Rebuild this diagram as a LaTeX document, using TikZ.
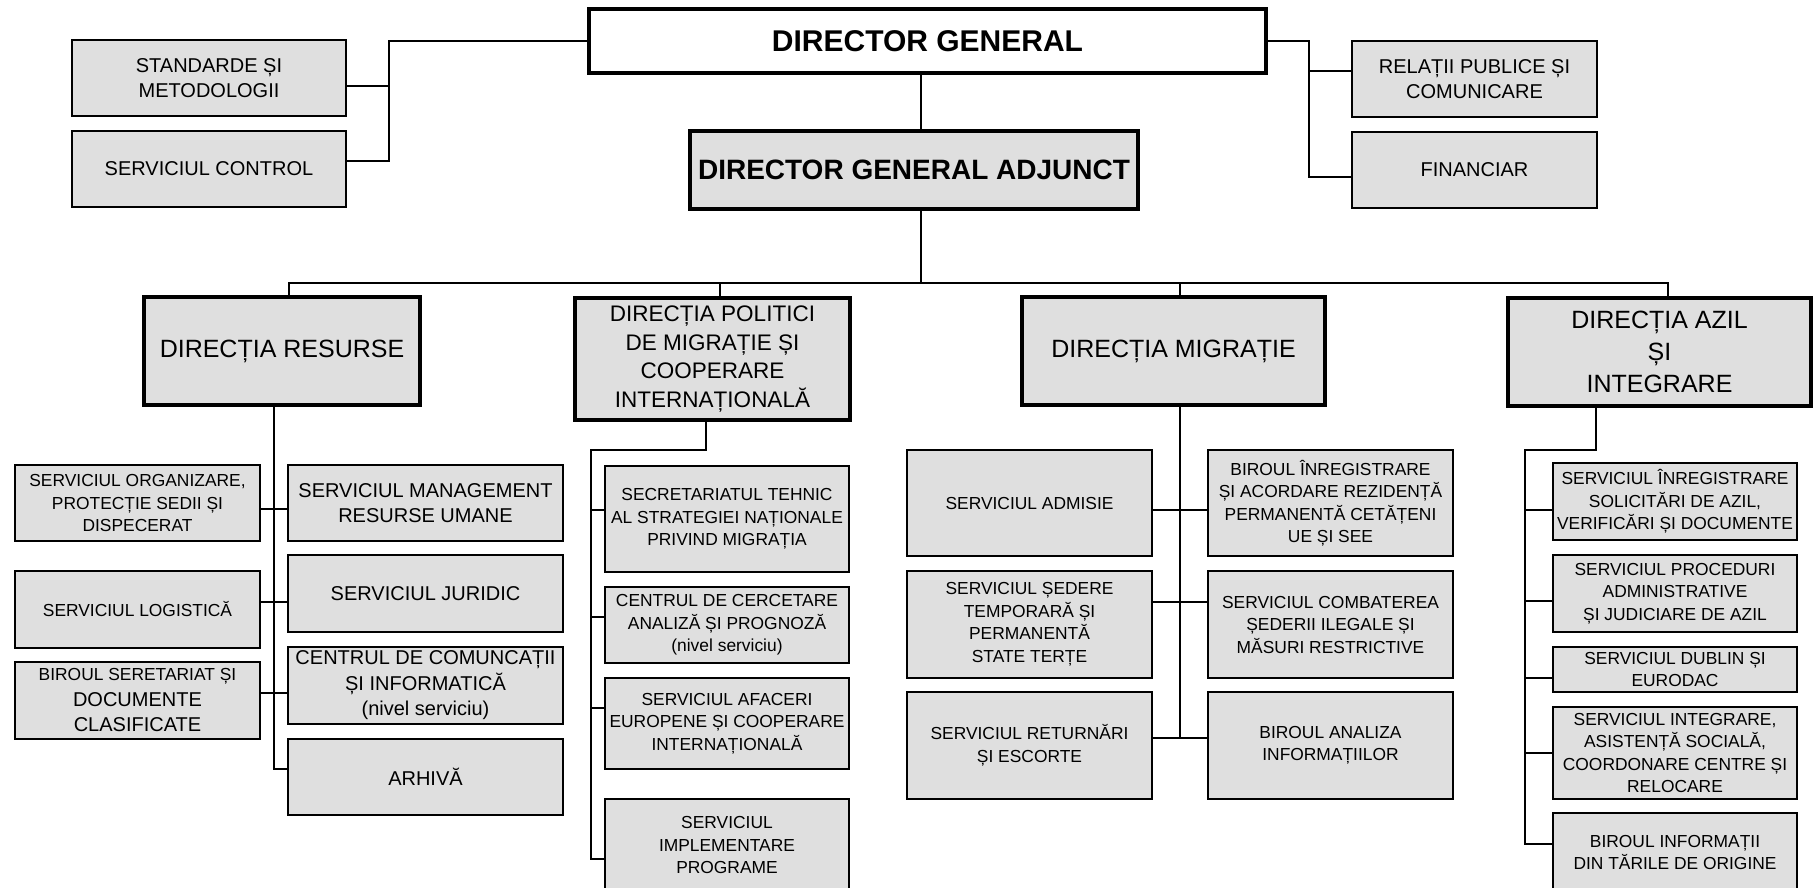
\documentclass[tikz,border=0pt]{standalone}
\usepackage{fontspec}
\setmainfont{Liberation Sans}
\definecolor{boxgray}{RGB}{223,223,223}
\newcommand\mybox[7]{\node[#6,minimum width={#4-#2},minimum height={#5-#3}] (#1) at ({(#2+#4)/2},{(#3+#5)/2}) {#7};}
\tikzset{
  conn/.style={line width=2pt},
  bigbox/.style={draw,line width=3.6pt,fill=boxgray,inner sep=0pt,align=center},
  smallbox/.style={draw,line width=1.8pt,fill=boxgray,inner sep=0pt,align=center},
  fbig/.style={font=\fontsize{25}{32}\selectfont},
  fmid/.style={font=\fontsize{20}{25.5}\selectfont},
  fsml/.style={font=\fontsize{17.4}{22.5}\selectfont},
}
\begin{document}
\begin{tikzpicture}[x=1pt,y=-1pt]
\useasboundingbox (0,0) rectangle (1814,887);
\fill[white] (0,0) rectangle (1814,887);
\clip (0,0) rectangle (1814,887);

% top level
\mybox{dg}{589}{9}{1266}{73}{bigbox,fill=white,font=\fontsize{30}{36}\selectfont\bfseries}{DIRECTOR GENERAL}
\mybox{dga}{690}{131}{1138}{209}{bigbox,font=\fontsize{28}{34}\selectfont\bfseries}{DIRECTOR GENERAL ADJUNCT}
\mybox{std}{72}{40}{346}{116}{smallbox,fmid}{STANDARDE ȘI\\METODOLOGII}
\mybox{ctl}{72}{131}{346}{207}{smallbox,fmid}{SERVICIUL CONTROL}
\mybox{rel}{1352}{41}{1597}{117}{smallbox,fmid}{RELAȚII PUBLICE ȘI\\COMUNICARE}
\mybox{fin}{1352}{132}{1597}{208}{smallbox,fmid}{FINANCIAR}

% directions
\mybox{dr}{144}{297}{420}{405}{bigbox,fbig}{DIRECȚIA RESURSE}
\mybox{dp}{575}{298}{850}{420}{bigbox,font=\fontsize{22.5}{28.6}\selectfont}{DIRECȚIA POLITICI\\DE MIGRAȚIE ȘI\\COOPERARE\\INTERNAȚIONALĂ}
\mybox{dm}{1022}{297}{1325}{405}{bigbox,fbig}{DIRECȚIA MIGRAȚIE}
\mybox{dai}{1508}{298}{1811}{406}{bigbox,fbig}{DIRECȚIA AZIL\\ȘI\\INTEGRARE}

% resurse
\mybox{org}{15}{465}{260}{541}{smallbox,fsml}{SERVICIUL ORGANIZARE,\\PROTECȚIE SEDII ȘI\\DISPECERAT}
\mybox{log}{15}{571}{260}{648}{smallbox,fsml}{SERVICIUL LOGISTICĂ}
\mybox{sec}{15}{662}{260}{739}{smallbox,fmid}{\fontsize{17.4}{25.5}\selectfont BIROUL SERETARIAT ȘI\\\fontsize{20}{25.5}\selectfont DOCUMENTE\\CLASIFICATE}
\mybox{mgm}{288}{465}{563}{541}{smallbox,fmid}{SERVICIUL MANAGEMENT\\RESURSE UMANE}
\mybox{jur}{288}{555}{563}{632}{smallbox,fmid}{SERVICIUL JURIDIC}
\mybox{cci}{288}{647}{563}{724}{smallbox,fmid}{CENTRUL DE COMUNCAȚII\\ȘI INFORMATICĂ\\(nivel serviciu)}
\mybox{arh}{288}{739}{563}{815}{smallbox,fmid}{ARHIVĂ}

% politici
\mybox{st}{605}{466}{849}{572}{smallbox,fsml}{SECRETARIATUL TEHNIC\\AL STRATEGIEI NAȚIONALE\\PRIVIND MIGRAȚIA}
\mybox{cc}{605}{587}{849}{663}{smallbox,fsml}{CENTRUL DE CERCETARE\\ANALIZĂ ȘI PROGNOZĂ\\(nivel serviciu)}
\mybox{af}{605}{678}{849}{769}{smallbox,fsml}{SERVICIUL AFACERI\\EUROPENE ȘI COOPERARE\\INTERNAȚIONALĂ}
\mybox{ip}{605}{799}{849}{891}{smallbox,fsml}{SERVICIUL\\IMPLEMENTARE\\PROGRAME}

% migratie
\mybox{adm}{907}{450}{1152}{556}{smallbox,fsml}{SERVICIUL ADMISIE}
\mybox{bi}{1208}{450}{1453}{556}{smallbox,fsml}{BIROUL ÎNREGISTRARE\\ȘI ACORDARE REZIDENȚĂ\\PERMANENTĂ CETĂȚENI\\UE ȘI SEE}
\mybox{sd}{907}{571}{1152}{678}{smallbox,fsml}{SERVICIUL ȘEDERE\\TEMPORARĂ ȘI\\PERMANENTĂ\\STATE TERȚE}
\mybox{cb}{1208}{571}{1453}{678}{smallbox,fsml}{SERVICIUL COMBATEREA\\ȘEDERII ILEGALE ȘI\\MĂSURI RESTRICTIVE}
\mybox{rt}{907}{692}{1152}{799}{smallbox,fsml}{SERVICIUL RETURNĂRI\\ȘI ESCORTE}
\mybox{ba}{1208}{692}{1453}{799}{smallbox,fsml}{BIROUL ANALIZA\\INFORMAȚIILOR}

% azil
\mybox{ai}{1553}{463}{1797}{540}{smallbox,fsml}{SERVICIUL ÎNREGISTRARE\\SOLICITĂRI DE AZIL,\\VERIFICĂRI ȘI DOCUMENTE}
\mybox{pa}{1553}{555}{1797}{632}{smallbox,fsml}{SERVICIUL PROCEDURI\\ADMINISTRATIVE\\ȘI JUDICIARE DE AZIL}
\mybox{du}{1553}{647}{1797}{692}{smallbox,fsml}{SERVICIUL DUBLIN ȘI\\EURODAC}
\mybox{ig}{1553}{707}{1797}{799}{smallbox,fsml}{SERVICIUL INTEGRARE,\\ASISTENȚĂ SOCIALĂ,\\COORDONARE CENTRE  ȘI\\RELOCARE}
\mybox{bo}{1553}{813}{1797}{892}{smallbox,fsml}{BIROUL INFORMAȚII\\DIN TĂRILE DE ORIGINE}

% ---- connectors ----
% left staff
\coordinate (lj) at (389,41);
\coordinate (stdS) at ([yshift=-8pt]std.east);
\coordinate (ctlS) at ([yshift=8pt]ctl.east);
\draw[conn] (dg.west) -- (lj) |- (ctlS);
\draw[conn] (stdS) -- (stdS -| lj);
% right staff
\coordinate (rj) at (1309,41);
\coordinate (relS) at ([yshift=8pt]rel.west);
\coordinate (finS) at ([yshift=-7pt]fin.west);
\draw[conn] (dg.east) -- (rj) |- (finS);
\draw[conn] (relS) -- (relS -| rj);
% spine
\coordinate (sp) at (921,283);
\draw[conn] (dg.south -| sp) -- (dga.north -| sp);
\draw[conn] (dga.south -| sp) -- (sp);
% bus
\coordinate (bl) at (289,283);
\coordinate (br) at (1668,283);
\coordinate (dpT) at (720,283);
\coordinate (dmT) at (1180,283);
\draw[conn] (dr.north -| bl) -- (bl) -- (br) -- (dai.north -| br);
\draw[conn] (dpT) -- (dpT |- dp.north);
\draw[conn] (dmT) -- (dmT |- dm.north);

% resurse children
\coordinate (drv) at (274,769);
\coordinate (r1) at (274,509);
\coordinate (r2) at (274,602);
\coordinate (r3) at (274,693);
\draw[conn] (dr.south -| drv) -- (drv) -- (drv -| arh.west);
\draw[conn] (r1 -| org.east) -- (r1 -| mgm.west);
\draw[conn] (r2 -| log.east) -- (r2 -| jur.west);
\draw[conn] (r3 -| sec.east) -- (r3 -| cci.west);

% politici children
\coordinate (dpa) at (706,450);
\coordinate (dpv) at (591,859);
\coordinate (p1) at (591,510);
\coordinate (p2) at (591,617);
\coordinate (p3) at (591,708);
\draw[conn] (dp.south -| dpa) -- (dpa) -- (dpa -| dpv) -- (dpv) -- (dpv -| ip.west);
\draw[conn] (p1) -- (p1 -| st.west);
\draw[conn] (p2) -- (p2 -| cc.west);
\draw[conn] (p3) -- (p3 -| af.west);

% migratie children
\coordinate (dmv) at (1180,738);
\coordinate (m1) at (1180,510);
\coordinate (m2) at (1180,602);
\draw[conn] (dm.south -| dmv) -- (dmv);
\draw[conn] (m1 -| adm.east) -- (m1 -| bi.west);
\draw[conn] (m2 -| sd.east) -- (m2 -| cb.west);
\draw[conn] (dmv -| rt.east) -- (dmv -| ba.west);

% azil children
\coordinate (daa) at (1596,450);
\coordinate (dav) at (1525,844);
\coordinate (a1) at (1525,510);
\coordinate (a2) at (1525,601);
\coordinate (a3) at (1525,678);
\coordinate (a4) at (1525,753);
\draw[conn] (dai.south -| daa) -- (daa) -- (daa -| dav) -- (dav) -- (dav -| bo.west);
\draw[conn] (a1) -- (a1 -| ai.west);
\draw[conn] (a2) -- (a2 -| pa.west);
\draw[conn] (a3) -- (a3 -| du.west);
\draw[conn] (a4) -- (a4 -| ig.west);
\end{tikzpicture}
\end{document}
